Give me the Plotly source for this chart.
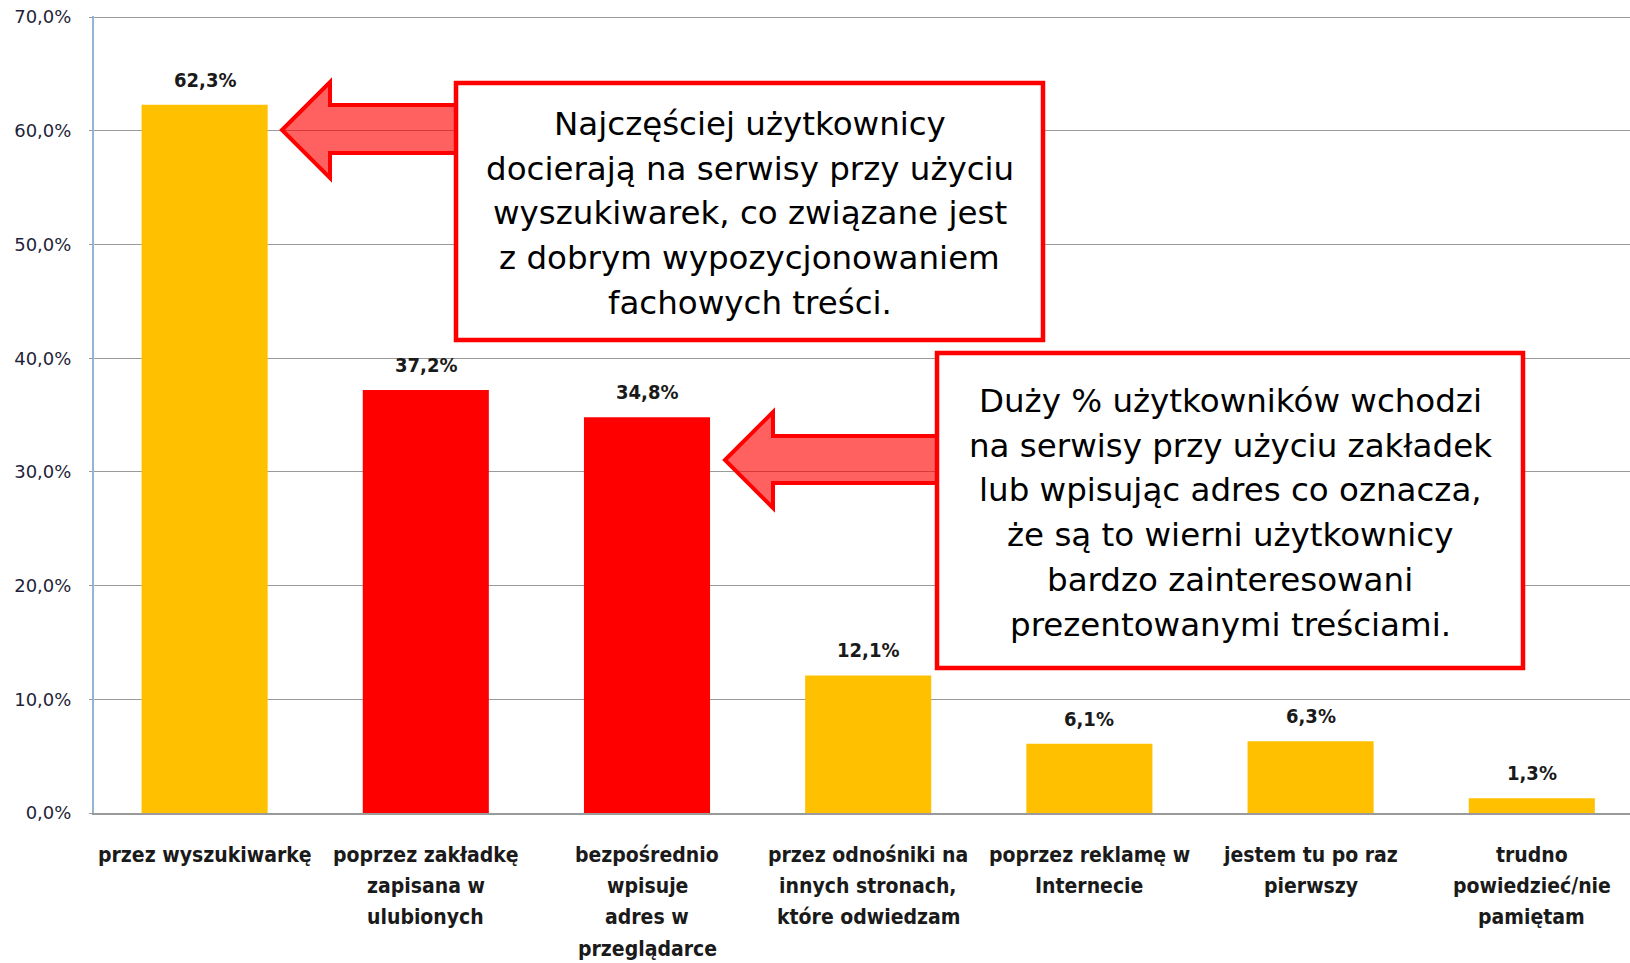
import plotly.graph_objects as go

categories = ["przez wyszukiwarkę", "poprzez zakładkę zapisana w ulubionych",
              "bezpośrednio wpisuje adres w przeglądarce",
              "przez odnośniki na innych stronach, które odwiedzam",
              "poprzez reklamę w Internecie", "jestem tu po raz pierwszy",
              "trudno powiedzieć/nie pamiętam"]
tick_labels = ["przez wyszukiwarkę",
               "poprzez zakładkę<br>zapisana w<br>ulubionych",
               "bezpośrednio<br>wpisuje<br>adres w<br>przeglądarce",
               "przez odnośniki na<br>innych stronach,<br>które odwiedzam",
               "poprzez reklamę w<br>Internecie",
               "jestem tu po raz<br>pierwszy",
               "trudno<br>powiedzieć/nie<br>pamiętam"]
values = [62.3, 37.2, 34.8, 12.1, 6.1, 6.3, 1.3]
value_labels = ["62,3%", "37,2%", "34,8%", "12,1%", "6,1%", "6,3%", "1,3%"]
bar_colors = ["#FFC000", "#FF0000", "#FF0000", "#FFC000", "#FFC000", "#FFC000", "#FFC000"]
y_ticks = [0, 10, 20, 30, 40, 50, 60, 70]
y_tick_labels = ["0,0%", "10,0%", "20,0%", "30,0%", "40,0%", "50,0%", "60,0%", "70,0%"]

box1_lines = ["Najczęściej użytkownicy", "docierają na serwisy przy użyciu",
              "wyszukiwarek, co związane jest", "z dobrym wypozycjonowaniem",
              "fachowych treści."]
box2_lines = ["Duży % użytkowników wchodzi", "na serwisy przy użyciu zakładek",
              "lub wpisując adres co oznacza,", "że są to wierni użytkownicy",
              "bardzo zainteresowani", "prezentowanymi treściami."]

W, H = 1630, 963
L, R, T, B = 94, 1630, 16, 813
Y_MAX = 70.1

def px(x):
    return (x - L) / (R - L)

def py(y):
    return (B - y) / (B - T)

label_font = "Liberation Sans Narrow, DejaVu Sans Condensed, Arial Narrow, sans-serif"
box_font = "DejaVu Sans, Verdana, sans-serif"

fig = go.Figure()
fig.add_trace(go.Bar(x=list(range(len(categories))), y=values,
                     marker=dict(color=bar_colors, line=dict(width=0)),
                     width=0.57, hoverinfo="skip"))

annotations = []
for i, (v, t) in enumerate(zip(values, value_labels)):
    annotations.append(dict(x=i, y=v, xref="x", yref="y", text=t, showarrow=False,
                            yanchor="middle", yshift=25,
                            font=dict(family=label_font, size=20, color="#1a1a1a", weight="bold")))

# category labels, one annotation per line for Excel-like line spacing
for i, lab in enumerate(tick_labels):
    for k, line in enumerate(lab.split("<br>")):
        annotations.append(dict(x=i, y=py(855 + k * 31.2), xref="x", yref="paper",
                                text=line, showarrow=False, xanchor="center", yanchor="middle",
                                font=dict(family=label_font, size=21, color="#1a1a1a", weight="bold")))

def arrow_path(tip_x, tip_y, head_x, head_top, head_bot, sh_top, sh_bot, end_x):
    pts = [(tip_x, tip_y), (head_x, head_top), (head_x, sh_top), (end_x, sh_top),
           (end_x, sh_bot), (head_x, sh_bot), (head_x, head_bot)]
    return "M " + " L ".join(f"{px(a):.5f},{py(b):.5f}" for a, b in pts) + " Z"

shapes = []
shapes.append(dict(type="path", xref="paper", yref="paper", layer="above",
                   path=arrow_path(282, 130, 330, 82, 178, 105, 153, 457),
                   fillcolor="rgba(255,0,0,0.62)", line=dict(color="#FF0000", width=4)))
shapes.append(dict(type="path", xref="paper", yref="paper", layer="above",
                   path=arrow_path(725, 460, 773, 412, 508, 436, 483, 937),
                   fillcolor="rgba(255,0,0,0.62)", line=dict(color="#FF0000", width=4)))

boxes = [((456, 83, 1043, 340), box1_lines, 124),
         ((937, 353, 1523, 668), box2_lines, 401)]
for (x0, y0, x1, y1), lines, first_y in boxes:
    shapes.append(dict(type="rect", xref="paper", yref="paper", layer="above",
                       x0=px(x0), x1=px(x1), y0=py(y0), y1=py(y1),
                       fillcolor="white", line=dict(color="#FF0000", width=4.5)))
    cx = (x0 + x1) / 2
    for k, line in enumerate(lines):
        annotations.append(dict(x=px(cx), y=py(first_y + k * 44.7), xref="paper", yref="paper",
                                text=line, showarrow=False, xanchor="center", yanchor="middle",
                                font=dict(family=box_font, size=32.5, color="#000000")))

fig.update_layout(
    width=W, height=H,
    margin=dict(l=L, r=W - R, t=T, b=H - B, autoexpand=False),
    paper_bgcolor="white", plot_bgcolor="white",
    showlegend=False,
    shapes=shapes,
    annotations=annotations,
    xaxis=dict(tickmode="array", tickvals=list(range(len(categories))),
               showticklabels=False,
               range=[-0.5, 6.444], showgrid=False, zeroline=False,
               showline=True, linecolor="#9a9a9a", linewidth=2, ticks=""),
    yaxis=dict(range=[0, Y_MAX], tickmode="array", tickvals=y_ticks, ticktext=y_tick_labels,
               showgrid=True, gridcolor="#9a9a9a", gridwidth=1.2,
               zeroline=False, showline=True, linecolor="#95B3D7", linewidth=2,
               ticks="outside", ticklen=3, tickcolor="#9a9a9a", ticklabelstandoff=14,
               ticklabeloverflow="allow",
               tickfont=dict(family="DejaVu Sans, Verdana, sans-serif", size=18, color="#1f1f3a")),
)

fig.write_html("out.html", config={"displayModeBar": False},
               post_script="document.body.style.margin='0';document.body.style.overflow='hidden';")
